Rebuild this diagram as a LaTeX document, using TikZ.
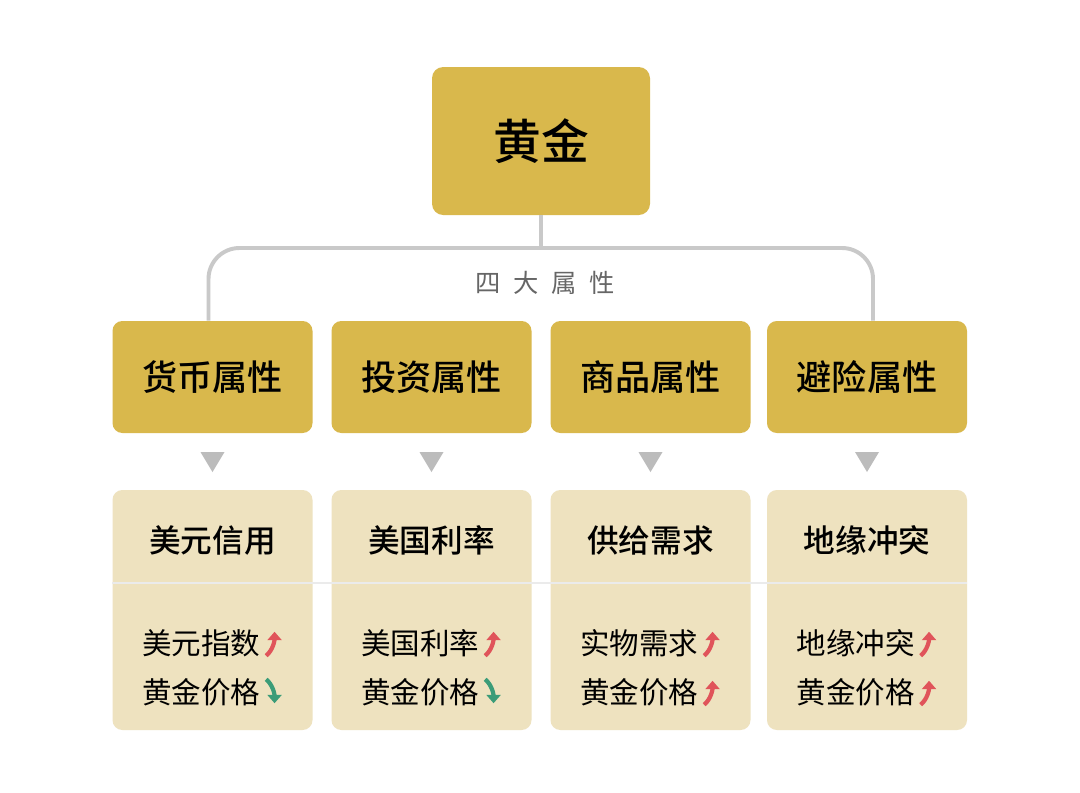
\documentclass[tikz,border=0pt]{standalone}
\usepackage{fontspec}
\setmainfont{Noto Sans CJK SC}[BoldFont={Noto Sans CJK SC Medium}]
\usetikzlibrary{arrows.meta}
\definecolor{gold}{HTML}{D9B84C}
\definecolor{beige}{HTML}{EEE2BF}
\definecolor{conn}{HTML}{C9C9C9}
\definecolor{upc}{HTML}{E0545A}
\definecolor{dnc}{HTML}{3B9C78}
\tikzset{
 top/.style={fill=gold,rounded corners=8pt,minimum width=218*0.025cm,minimum height=148*0.025cm,font=\fontsize{34}{36}\selectfont\bfseries},
 attr/.style={fill=gold,rounded corners=7pt,minimum width=200*0.025cm,minimum height=112*0.025cm,font=\fontsize{25}{28}\selectfont\bfseries},
 lower/.style={fill=beige,rounded corners=7pt,minimum width=200*0.025cm,minimum height=240*0.025cm},
 ttl/.style={font=\fontsize{22.5}{26}\selectfont\bfseries},
 itm/.style={font=\fontsize{21}{24}\selectfont,inner sep=0pt},
 tri/.style={fill=conn!90!black!90,draw=none},
 cn/.style={draw=conn,line width=2.8pt},
 upa/.style={draw=upc,line width=3pt,-{Triangle[length=6pt,width=10pt]}},
 dna/.style={draw=dnc,line width=3pt,-{Triangle[length=6pt,width=10pt]}},
}
\begin{document}
\begin{tikzpicture}[x=0.025cm,y=-0.025cm]
\fill[white] (0,0) rectangle (1080,792);
\useasboundingbox (0,0) rectangle (1080,792);
\node[top] (g) at (541,141) {黄金};
\foreach \n/\x/\t in {a/212.5/货币属性,b/431.5/投资属性,c/650.5/商品属性,d/867/避险属性}{
  \node[attr] (\n) at (\x,377) {\t};
}
\coordinate (j) at (541,248);
\draw[cn] (g.south) -- (j);
\draw[cn,rounded corners=22pt] ([xshift=-4*0.025cm]a.north) |- (j) -| ([xshift=6*0.025cm]d.north);
\node[font=\fontsize{18}{20}\selectfont,text=black!60] (lbl) at (545,283) {四\hspace{0.5em}大\hspace{0.5em}属\hspace{0.5em}性};
\foreach \n/\x/\t/\p/\r in {a/212.5/美元信用/美元指数/黄金价格,b/431.5/美国利率/美国利率/黄金价格,c/650.5/供给需求/实物需求/黄金价格,d/867/地缘冲突/地缘冲突/黄金价格}{
  \node[lower] (L\n) at (\x,610) {};
  \fill[tri] (\x-12,452) -- (\x+12,452) -- (\x,472) -- cycle;
  \node[ttl] (T\n) at (\x,540) {\t};
  \node[itm,anchor=east] (P\n) at (\x+48,643) {\p};
  \node[itm,anchor=east] (R\n) at (\x+48,692) {\r};
}
\draw[black!8,line width=1.5pt] (La.west|-0,583) -- (Ld.east|-0,583);
\foreach \n in {a,b,c,d}{
  \draw[upa] ([xshift=4pt,yshift=-9pt]P\n.east) .. controls +(5pt,4pt) and +(0,-6pt) .. ([xshift=10pt,yshift=8pt]P\n.east);
}
\foreach \n in {a,b}{
  \draw[dna] ([xshift=4pt,yshift=9pt]R\n.east) .. controls +(5pt,-4pt) and +(0,6pt) .. ([xshift=10pt,yshift=-8pt]R\n.east);
}
\foreach \n in {c,d}{
  \draw[upa] ([xshift=4pt,yshift=-9pt]R\n.east) .. controls +(5pt,4pt) and +(0,-6pt) .. ([xshift=10pt,yshift=8pt]R\n.east);
}
\end{tikzpicture}
\end{document}
